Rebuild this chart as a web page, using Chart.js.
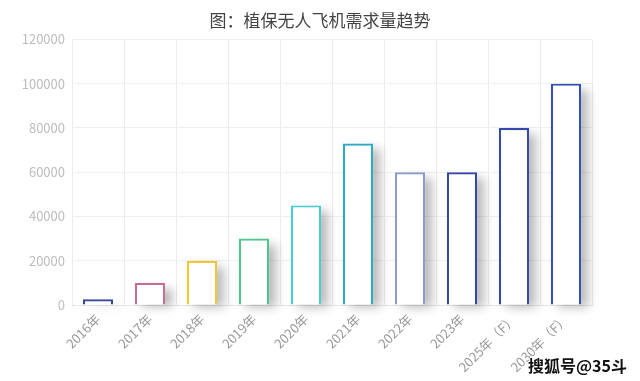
<!DOCTYPE html>
<html>
<head>
<meta charset="utf-8">
<script src="https://cdn.jsdelivr.net/npm/chart.js@4"></script>
<style>
  html, body { margin: 0; padding: 0; background: #fff; }
  #wrap { position: relative; width: 640px; height: 381px; }
  #mark {
    position: absolute; left: 528px; top: 353px;
    font: bold 16px "Noto Sans CJK SC", sans-serif; color: #111;
    text-shadow: -1px 0 #fff, 1px 0 #fff, 0 -1px #fff, 0 1px #fff;
  }
</style>
</head>
<body>
<div id="wrap">
  <canvas id="myChart" width="640" height="381"></canvas>
  <div id="mark">搜狐号@35斗</div>
</div>
<script>
const labels = ['2016年', '2017年', '2018年', '2019年', '2020年', '2021年', '2022年', '2023年', '2025年（F）', '2030年（F）'];
const demand = [2600, 10000, 20000, 30000, 45000, 73000, 60000, 60000, 80000, 100000];
const yTicks = [0, 20000, 40000, 60000, 80000, 100000, 120000];
const barColors = ['#34479c', '#c56e92', '#f2c537', '#4fc690', '#45cfd2', '#2ea9c8', '#8d9bcd', '#3646a6', '#3648ac', '#3450b6'];

const font = '"Noto Sans CJK SC", "Noto Sans", sans-serif';

// soft grey shadow to the right of every bar
const barShadow = {
  id: 'barShadow',
  beforeDatasetsDraw(chart) {
    const ctx = chart.ctx;
    const meta = chart.getDatasetMeta(0);
    ctx.save();
    meta.data.forEach((bar) => {
      const left = bar.x - bar.width / 2;
      const top = bar.y;
      const h = bar.base - bar.y;
      ctx.shadowColor = 'rgba(0,0,0,0.28)';
      ctx.shadowBlur = 10;
      ctx.shadowOffsetX = 7;
      ctx.shadowOffsetY = 2;
      ctx.fillStyle = '#fff';
      ctx.fillRect(left, top + 4, bar.width, h - 4);
    });
    ctx.restore();
  },
};

new Chart(document.getElementById('myChart'), {
  type: 'bar',
  data: {
    labels: labels,
    datasets: [{
      data: demand,
      backgroundColor: '#fff',
      borderColor: barColors,
      borderWidth: 2.2,
      barPercentage: 0.58,
      categoryPercentage: 1,
    }],
  },
  options: {
    responsive: false,
    animation: false,
    plugins: {
      legend: { display: false },
      tooltip: { enabled: false },
      title: {
        display: true,
        text: '图：植保无人飞机需求量趋势',
        color: '#444',
        font: { family: font, size: 17, weight: 'normal' },
        padding: { top: 10, bottom: 9 },
      },
    },
    scales: {
      x: {
        grid: { color: '#ececec', drawTicks: false, offset: true },
        border: { display: true, color: '#e4e4e4' },
        ticks: {
          color: '#9a9a9a',
          font: { family: font, size: 13 },
          minRotation: 45,
          maxRotation: 45,
          padding: 6,
          autoSkip: false,
        },
        afterFit(scale) { scale.height = 76; },
      },
      y: {
        min: 0,
        max: 120000,
        grid: { color: '#f0f0f0', drawTicks: false },
        border: { display: false },
        afterBuildTicks(scale) { scale.ticks = yTicks.map((v) => ({ value: v })); },
        ticks: {
          color: '#bdbdbd',
          font: { family: font, size: 13 },
          padding: 7,
          callback: (v) => String(v),
        },
        afterFit(scale) { scale.width = 72; },
      },
      // empty right-hand gutter so the title stays centred on the canvas
      gutter: {
        position: 'right',
        display: true,
        grid: { display: false, drawTicks: false },
        border: { display: false },
        ticks: { display: false },
        afterFit(scale) { scale.width = 48; },
      },
    },
  },
  plugins: [barShadow],
});
</script>
</body>
</html>
